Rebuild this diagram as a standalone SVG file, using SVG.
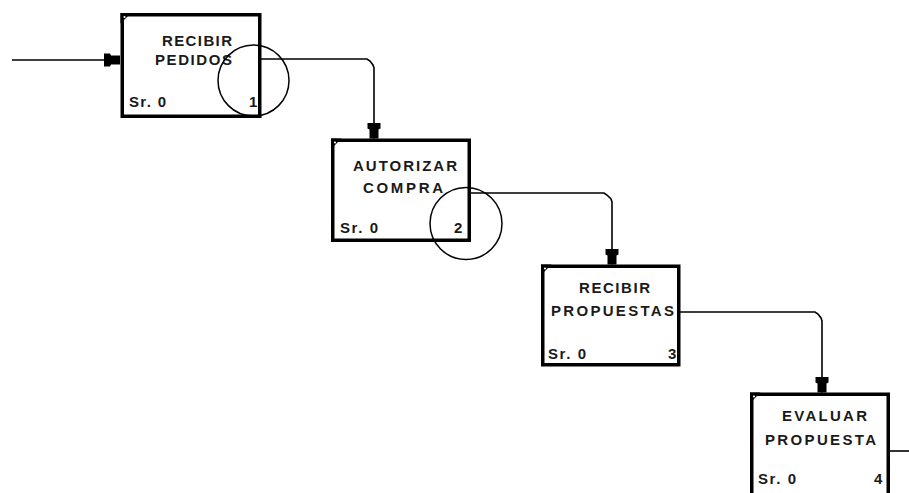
<svg xmlns="http://www.w3.org/2000/svg" width="909" height="493" viewBox="0 0 909 493">
<style>
  .box { fill: #fff; stroke: #000; stroke-width: 3.5; }
  .corner { fill: #000; }
  .dot { fill: #fff; }
  .lbl { font-family: "Liberation Sans", Arial, sans-serif; font-size: 15px; font-weight: bold; fill: #1a1a1a; }
  .small { font-family: "Liberation Sans", Arial, sans-serif; font-size: 15px; font-weight: bold; fill: #1a1a1a; }
  .conn { fill: none; stroke: #000; stroke-width: 1.6; }
  .ring { fill: none; stroke: #000; stroke-width: 1.5; }
</style>
<defs>
  <marker id="arr" viewBox="0 0 16 14" markerWidth="16" markerHeight="14" refX="16" refY="7" markerUnits="userSpaceOnUse" orient="auto">
    <path d="M0,0.5 H6 L7,2.5 H16 V11.5 H7 L6,13.5 H0 Z" fill="#000"/>
  </marker>
</defs>
<rect width="909" height="493" fill="#fff"/>

<g id="connectors">
  <path class="conn" d="M12,60 H120" marker-end="url(#arr)"/>
  <path class="conn" d="M261,59 H367 L370,61 L373,65 L374,68 V138.5" marker-end="url(#arr)"/>
  <path class="conn" d="M471,193 H604 L607,195 L611,199 L612,202 V264.5" marker-end="url(#arr)"/>
  <path class="conn" d="M680,312 H815 L818,314 L821,318 L822,321 V392.5" marker-end="url(#arr)"/>
  <path class="conn" d="M890,451 H909"/>
</g>

<g id="node1">
  <rect class="box" x="122.25" y="14.75" width="137.5" height="101.5"/>
  <polygon class="corner" points="120.5,13 131,13 120.5,23.5"/>
  <circle class="dot" cx="124.5" cy="17" r="1.1"/>
  <text class="lbl" x="162" y="45.5" textLength="70" lengthAdjust="spacing">RECIBIR</text>
  <text class="lbl" x="155" y="64.5" textLength="77" lengthAdjust="spacing">PEDIDOS</text>
  <text class="small" x="129" y="106.5" textLength="37" lengthAdjust="spacing">Sr. 0</text>
  <text class="small" x="249" y="106.5">1</text>
</g>

<g id="node2">
  <rect class="box" x="332.75" y="140.25" width="136.5" height="100"/>
  <polygon class="corner" points="331,138.5 341.5,138.5 331,149"/>
  <circle class="dot" cx="335" cy="142.5" r="1.1"/>
  <text class="lbl" x="353" y="170.5" textLength="104" lengthAdjust="spacing">AUTORIZAR</text>
  <text class="lbl" x="363" y="192.5" textLength="80" lengthAdjust="spacing">COMPRA</text>
  <text class="small" x="340" y="232.5" textLength="38" lengthAdjust="spacing">Sr. 0</text>
  <text class="small" x="454" y="232.5">2</text>
</g>

<g id="node3">
  <rect class="box" x="542.75" y="266.25" width="136" height="98.5"/>
  <polygon class="corner" points="541,264.5 551.5,264.5 541,275"/>
  <circle class="dot" cx="545" cy="268.5" r="1.1"/>
  <text class="lbl" x="579" y="292.5" textLength="71" lengthAdjust="spacing">RECIBIR</text>
  <text class="lbl" x="551" y="315.5" textLength="123" lengthAdjust="spacing">PROPUESTAS</text>
  <text class="small" x="548" y="358.5" textLength="38" lengthAdjust="spacing">Sr. 0</text>
  <text class="small" x="668" y="358.5">3</text>
</g>

<g id="node4">
  <rect class="box" x="751.75" y="394.25" width="136.5" height="110"/>
  <polygon class="corner" points="750,392.5 760.5,392.5 750,403"/>
  <circle class="dot" cx="754" cy="396.5" r="1.1"/>
  <text class="lbl" x="782" y="420.5" textLength="85" lengthAdjust="spacing">EVALUAR</text>
  <text class="lbl" x="765" y="444.5" textLength="111" lengthAdjust="spacing">PROPUESTA</text>
  <text class="small" x="758" y="483.5" textLength="38" lengthAdjust="spacing">Sr. 0</text>
  <text class="small" x="874" y="483.5">4</text>
</g>

<g id="rings">
  <circle class="ring" cx="253.5" cy="80.5" r="35.5"/>
  <circle class="ring" cx="466" cy="223.5" r="36"/>
</g>
</svg>
